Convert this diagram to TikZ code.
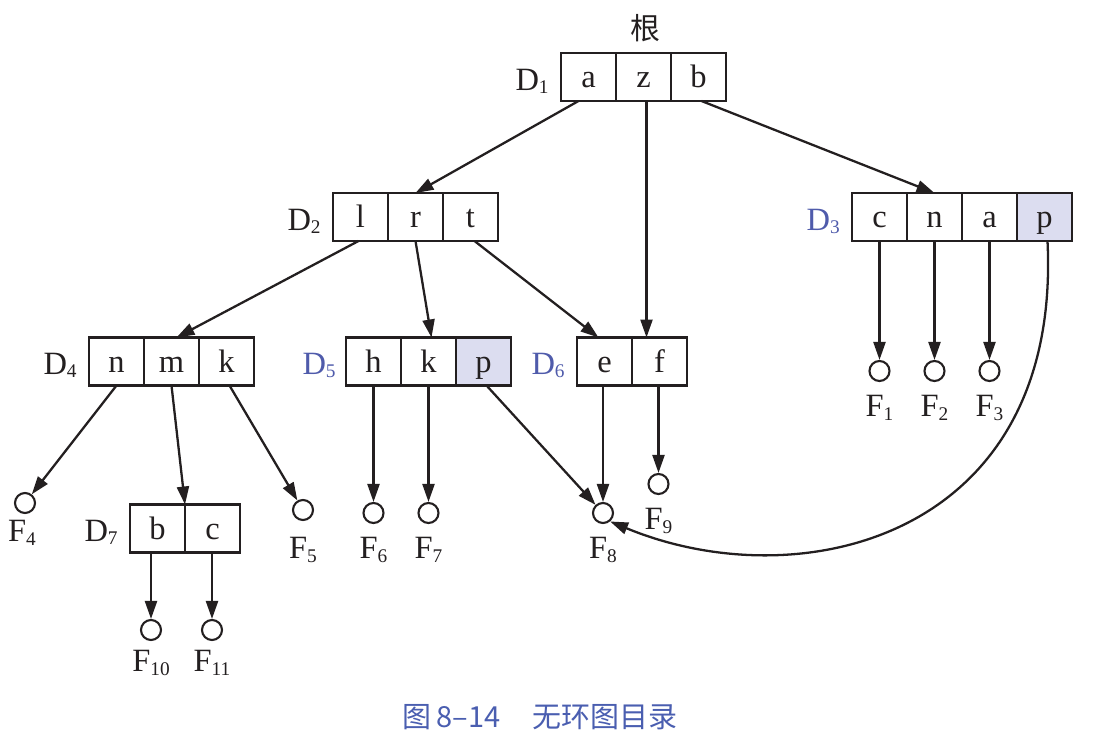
\documentclass[tikz,border=0pt]{standalone}
\usepackage{fontspec}
\setmainfont{Liberation Serif}
\newfontfamily\cjk{Noto Sans CJK SC}
\usetikzlibrary{arrows.meta,calc}
\definecolor{ink}{RGB}{35,31,32}
\definecolor{dblue}{RGB}{79,91,171}
\definecolor{pfill}{RGB}{220,221,240}
\definecolor{capblue}{RGB}{74,94,176}
\newcommand\sbx[1]{\raisebox{-0.1em}{\fontsize{11}{11}\selectfont #1}}
\begin{document}
\begin{tikzpicture}[x=0.02cm, y=-0.02cm,
  cell/.style={draw=ink, line width=1.2pt, minimum width=1.1cm, minimum height=0.96cm,
    inner sep=0pt, outer sep=0pt, text=ink, text height=12pt, text depth=0pt,
    font=\fontsize{18.5}{22}\selectfont},
  hl/.style={cell, fill=pfill},
  leaf/.style={circle, draw=ink, line width=1.2pt, minimum size=0.4cm, inner sep=0pt},
  dlbl/.style={text=ink, inner sep=0pt, xshift=-0.24cm, text height=15pt, text depth=0pt,
    font=\fontsize{18.5}{22}\selectfont},
  flbl/.style={text=ink, inner sep=0pt, yshift=-0.26cm, text height=12.2pt, text depth=0pt,
    font=\fontsize{18.5}{22}\selectfont},
  arr/.style={-{Triangle[length=3.6mm,width=2.4mm]}, line width=1.3pt, draw=ink}]
\useasboundingbox (0,0) rectangle (1109,734);
\node[text=ink, font={\cjk\fontsize{17}{20}\selectfont}] (root) at (645,28) {根};
% D1
\node[cell, label={[dlbl]left:D\sbx{1}}] (d1a) at (588.5,77) {a};
\node[cell] (d1z) at (643.5,77) {z};
\node[cell] (d1b) at (698.5,77) {b};
% D2
\node[cell, label={[dlbl]left:D\sbx{2}}] (d2l) at (360.5,217) {l};
\node[cell] (d2r) at (415.5,217) {r};
\node[cell] (d2t) at (470.5,217) {t};
% D3
\node[cell, label={[dlbl, text=dblue]left:D\sbx{3}}] (d3c) at (879.5,217) {c};
\node[cell] (d3n) at (934.5,217) {n};
\node[cell] (d3a) at (989.5,217) {a};
\node[hl] (d3p) at (1044.5,217) {p};
% D4
\node[cell, label={[dlbl]left:D\sbx{4}}] (d4n) at (116.5,361.5) {n};
\node[cell] (d4m) at (171.5,361.5) {m};
\node[cell] (d4k) at (226.5,361.5) {k};
% D5
\node[cell, label={[dlbl, text=dblue, xshift=0.04cm]left:D\sbx{5}}] (d5h) at (373.5,361.5) {h};
\node[cell] (d5k) at (428.5,361.5) {k};
\node[hl] (d5p) at (483.5,361.5) {p};
% D6
\node[cell, label={[dlbl, text=dblue]left:D\sbx{6}}] (d6e) at (604.5,361.5) {e};
\node[cell] (d6f) at (659.5,361.5) {f};
% D7
\node[cell, label={[dlbl]left:D\sbx{7}}] (d7b) at (157.5,528.5) {b};
\node[cell] (d7c) at (212.5,528.5) {c};
% files
\node[leaf, label={[flbl]below:F\sbx{1}}] (f1) at (879.5,371) {};
\node[leaf, label={[flbl]below:F\sbx{2}}] (f2) at (934.5,371) {};
\node[leaf, label={[flbl]below:F\sbx{3}}] (f3) at (989.5,371) {};
\node[leaf, label={[flbl, yshift=0.14cm, xshift=-0.06cm]below:F\sbx{4}}] (f4) at (25,503) {};
\node[leaf, label={[flbl, yshift=-0.06cm]below:F\sbx{5}}] (f5) at (303,510) {};
\node[leaf, label={[flbl]below:F\sbx{6}}] (f6) at (373.5,513) {};
\node[leaf, label={[flbl]below:F\sbx{7}}] (f7) at (428.5,513) {};
\node[leaf, label={[flbl]below:F\sbx{8}}] (f8) at (603,513) {};
\node[leaf, label={[flbl]below:F\sbx{9}}] (f9) at (658.5,484) {};
\node[leaf, label={[flbl, yshift=0.08cm]below:F\sbx{10}}] (f10) at (151,630) {};
\node[leaf, label={[flbl, yshift=0.08cm]below:F\sbx{11}}] (f11) at (212,630) {};
% edges
\draw[arr] ($(d1a.south)+(-10,0)$) -- (d2r.north);
\draw[arr] ($(d1z.south)+(3,0)$) coordinate (zdrop) -- (zdrop |- d6f.north);
\draw[arr] ($(d1b.south)+(3,0)$) -- (d3n.north);
\draw[arr] ($(d2l.south)+(-2,0)$) -- ($(d4m.north)+(5,0)$);
\draw[arr] (d2r.south) -- ($(d5k.north)+(3,0)$);
\draw[arr] ($(d2t.south)+(4,0)$) -- ($(d6e.north)+(-6,0)$);
\draw[arr] (d3c.south) -- (f1);
\draw[arr] (d3n.south) -- (f2);
\draw[arr] (d3a.south) -- (f3);
\draw[arr] ($(d3p.south)+(3,0)$) .. controls (1062,538) and (800,600) .. (f8.-50);
\draw[arr] (d4n.south) -- (f4);
\draw[arr] (d4m.south) -- (d7b.north east);
\draw[arr] ($(d4k.south)+(3,0)$) -- (f5);
\draw[arr] (d5h.south) -- (f6);
\draw[arr] (d5k.south) -- (f7);
\draw[arr] ($(d5p.south)+(3,0)$) -- (f8);
\draw[arr] (d6e.south -| f8) -- (f8);
\draw[arr] (d6f.south -| f9) -- (f9);
\draw[arr] (d7b.south -| f10) -- (f10);
\draw[arr] (d7c.south -| f11) -- (f11);
\node[text=capblue, font={\cjk\fontsize{16.5}{19}\selectfont}] (cap) at (540,717) {图\,8–14\hspace{1.1em}无环图目录};
\end{tikzpicture}
\end{document}
